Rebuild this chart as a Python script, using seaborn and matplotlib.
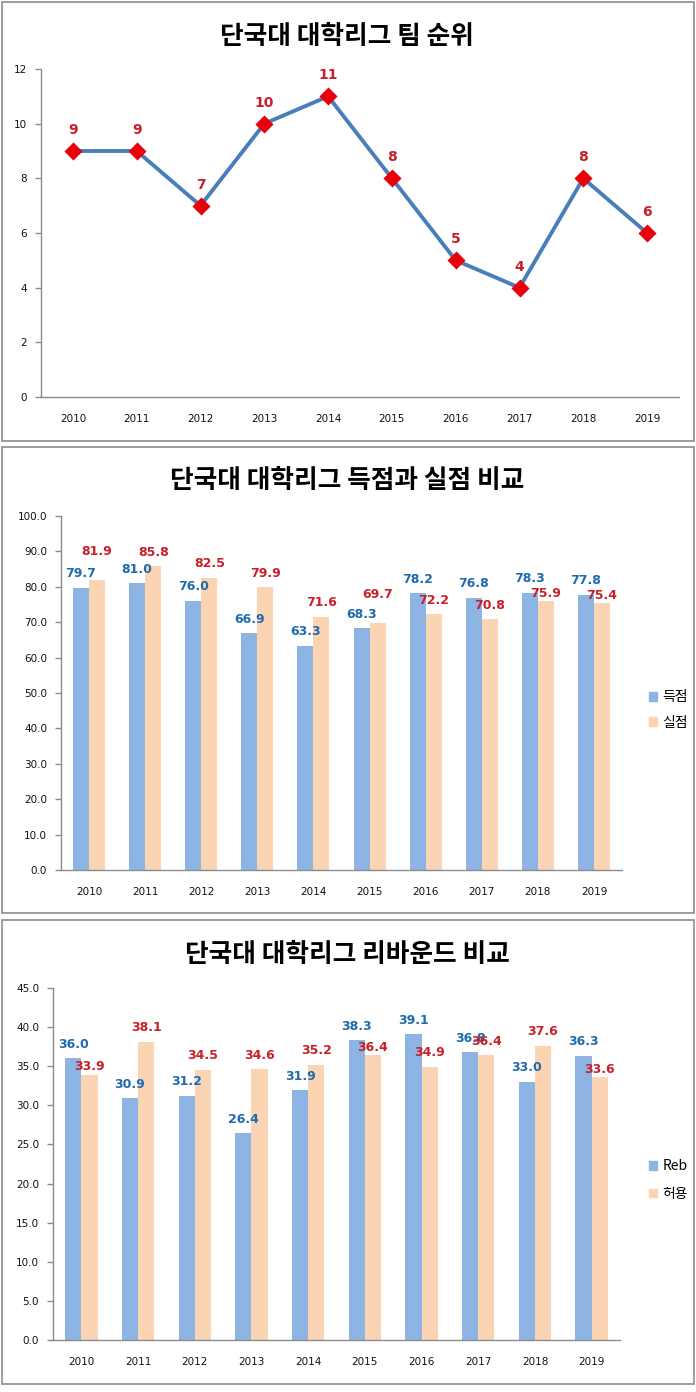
import matplotlib
matplotlib.use("Agg")
import matplotlib.pyplot as plt
from matplotlib.patches import Rectangle, Patch
import seaborn as sns
import pandas as pd

# ---------------- data ----------------
years = ["2010", "2011", "2012", "2013", "2014", "2015", "2016", "2017", "2018", "2019"]
rank = [9, 9, 7, 10, 11, 8, 5, 4, 8, 6]

points_for = [79.7, 81.0, 76.0, 66.9, 63.3, 68.3, 78.2, 76.8, 78.3, 77.8]
points_against = [81.9, 85.8, 82.5, 79.9, 71.6, 69.7, 72.2, 70.8, 75.9, 75.4]

reb_for = [36.0, 30.9, 31.2, 26.4, 31.9, 38.3, 39.1, 36.8, 33.0, 36.3]
reb_against = [33.9, 38.1, 34.5, 34.6, 35.2, 36.4, 34.9, 36.4, 37.6, 33.6]

title1 = "단국대 대학리그 팀 순위"
title2 = "단국대 대학리그 득점과 실점 비교"
title3 = "단국대 대학리그 리바운드 비교"
series2 = ["득점", "실점"]
series3 = ["Reb", "허용"]

# ---------------- style ----------------
sns.set_style("white")
plt.rcParams["font.family"] = ["DejaVu Sans", "Noto Sans CJK KR"]
plt.rcParams["text.color"] = "black"

LINE = "#4A7EBB"
MARK = "#E8000B"
RED_TXT = "#C8202A"
BLUE_TXT = "#1F6BAF"
BAR_BLUE = "#8EB4E3"
BAR_ORANGE = "#FBD4B4"
SPINE = "#8C8C8C"
KFONT = ["Noto Sans CJK KR", "DejaVu Sans"]

W, H = 696, 1392
fig = plt.figure(figsize=(W / 100, H / 100), dpi=100)
fig.patch.set_facecolor("white")


def fx(px):
    return px / W


def fy(py):
    return 1 - py / H


def axes_px(l, t, r, b):
    return fig.add_axes([fx(l), fy(b), fx(r) - fx(l), (b - t) / H])


def frame(t, b):
    fig.add_artist(Rectangle((fx(2), fy(b)), fx(694) - fx(2), (b - t) / H,
                             transform=fig.transFigure, fill=False,
                             edgecolor="#8C8C8C", linewidth=1.2))


def title(y, s):
    fig.text(0.4986, fy(y), s, ha="center", va="center", fontsize=18.5,
             fontweight="bold", family=KFONT)


def style_axes(ax, n):
    for s in ["top", "right"]:
        ax.spines[s].set_visible(False)
    for s in ["left", "bottom"]:
        ax.spines[s].set_color(SPINE)
        ax.spines[s].set_linewidth(1.0)
    ax.set_xlim(-0.5, n - 0.5)
    ax.set_xticks(range(n))
    ax.set_xticklabels(years)
    ax.set_xticks([i - 0.5 for i in range(n + 1)], minor=True)
    ax.tick_params(axis="x", which="major", length=0, pad=12, labelsize=7.5, labelcolor="#111111")
    ax.tick_params(axis="x", which="minor", length=4, width=1, color=SPINE, direction="out")
    ax.tick_params(axis="y", which="major", length=4, width=1, color=SPINE, direction="out",
                   pad=6, labelsize=7.5, labelcolor="#111111", left=True)
    ax.set_xlabel("")
    ax.set_ylabel("")
    ax.grid(False)


def label_bars(ax, first, second):
    c1, c2 = ax.containers[0], ax.containers[1]
    ax.bar_label(c1, fmt="%.1f", padding=5.5, color=BLUE_TXT, fontsize=9, fontweight="bold")
    texts2 = ax.bar_label(c2, fmt="%.1f", padding=5.5, color=RED_TXT, fontsize=9, fontweight="bold")
    # nudge labels of nearly equal bars apart, as in the source chart
    for i, t in enumerate(texts2):
        d = second[i] - first[i]
        if 0 < d < 3:
            t.set_position((0, 16))
        elif -3 < d < -1:
            t.set_position((0, 1))


# ---------------- panel 1: line ----------------
frame(2, 441)
title(36, title1)
ax1 = axes_px(41, 69, 679, 397)
df1 = pd.DataFrame({"year": years, "rank": rank})
sns.pointplot(data=df1, x="year", y="rank", color=LINE, markers="D", linestyles="-",
              linewidth=2.8, markersize=7, ax=ax1)
for ln in ax1.lines:
    ln.set_markerfacecolor(MARK)
    ln.set_markeredgecolor(MARK)
    ln.set_markersize(7.5)
ax1.set_ylim(0, 12)
ax1.set_yticks(range(0, 13, 2))
ax1.set_yticklabels([str(v) for v in range(0, 13, 2)])
style_axes(ax1, len(years))
for i, v in enumerate(rank):
    ax1.annotate(str(v), (i, v), xytext=(0, 10), textcoords="offset points",
                 ha="center", va="bottom", color=RED_TXT, fontsize=10, fontweight="bold")

# ---------------- panel 2: bars ----------------
frame(447, 913)
title(481, title2)
ax2 = axes_px(61, 516, 622, 870)
df2 = pd.DataFrame({
    "year": years * 2,
    "value": points_for + points_against,
    "series": [series2[0]] * len(years) + [series2[1]] * len(years),
})
sns.barplot(data=df2, x="year", y="value", hue="series", hue_order=series2,
            palette={series2[0]: BAR_BLUE, series2[1]: BAR_ORANGE}, saturation=1,
            width=0.57, linewidth=0, errorbar=None, legend=False, ax=ax2)
ax2.set_ylim(0, 100)
ax2.set_yticks(range(0, 101, 10))
ax2.set_yticklabels([f"{v:.1f}" for v in range(0, 101, 10)])
style_axes(ax2, len(years))
label_bars(ax2, points_for, points_against)
fig.legend(handles=[Patch(color=BAR_BLUE, label=series2[0]), Patch(color=BAR_ORANGE, label=series2[1])],
           loc="center left", bbox_to_anchor=(fx(636), fy(710)), frameon=False,
           prop={"family": KFONT, "size": 10},
           handlelength=0.6, handleheight=0.6, handletextpad=0.4, labelspacing=0.8)

# ---------------- panel 3: bars ----------------
frame(920, 1384)
title(954, title3)
ax3 = axes_px(53, 988, 620, 1340)
df3 = pd.DataFrame({
    "year": years * 2,
    "value": reb_for + reb_against,
    "series": [series3[0]] * len(years) + [series3[1]] * len(years),
})
sns.barplot(data=df3, x="year", y="value", hue="series", hue_order=series3,
            palette={series3[0]: BAR_BLUE, series3[1]: BAR_ORANGE}, saturation=1,
            width=0.57, linewidth=0, errorbar=None, legend=False, ax=ax3)
ax3.set_ylim(0, 45)
ax3.set_yticks(range(0, 46, 5))
ax3.set_yticklabels([f"{v:.1f}" for v in range(0, 46, 5)])
style_axes(ax3, len(years))
label_bars(ax3, reb_for, reb_against)
fig.legend(handles=[Patch(color=BAR_BLUE, label=series3[0]), Patch(color=BAR_ORANGE, label=series3[1])],
           loc="center left", bbox_to_anchor=(fx(636), fy(1180)), frameon=False,
           prop={"family": KFONT, "size": 10},
           handlelength=0.6, handleheight=0.6, handletextpad=0.4, labelspacing=1.0)

fig.savefig("out.png", dpi=100, facecolor="white")
